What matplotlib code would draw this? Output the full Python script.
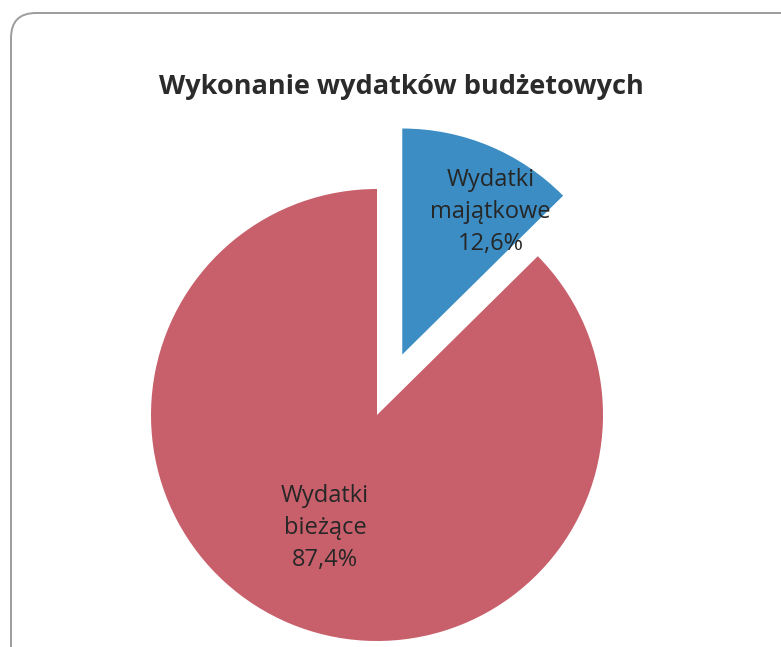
import numpy as np
import matplotlib
matplotlib.use("Agg")
import matplotlib.pyplot as plt
from matplotlib.patches import FancyBboxPatch

# data
categories = ["Wydatki\nmajątkowe", "Wydatki\nbieżące"]
shares = [12.6, 87.4]
colors = ["#3B8DC4", "#C8606C"]
explode = [0.29, 0.0]
title = "Wykonanie wydatków budżetowych"

# label offsets from each wedge's centre, in units of the radius
label_off = [(0.39, 0.63), (-0.23, -0.50)]

plt.rcParams["font.family"] = ["Open Sans", "DejaVu Sans"]

W, H = 781, 647
fig = plt.figure(figsize=(W / 100, H / 100), dpi=100)
fig.patch.set_facecolor("white")

# rounded frame round the chart
frame = FancyBboxPatch((11 / W, -40 / H), 800 / W, (H - 13 + 40) / H,
                       boxstyle="round,pad=0,rounding_size=0.032",
                       transform=fig.transFigure, facecolor="white",
                       edgecolor="#9c9c9c", linewidth=1.4, mutation_aspect=W / H,
                       zorder=-5)
fig.patches.append(frame)

ax = fig.add_axes([0, 0, 1, 1])
ax.patch.set_alpha(0)
ax.axis("off")

r = 226
cx, cy = 377, H - 415
# pie's explode is in data units, so scale by the radius
wedges, _ = ax.pie(shares, colors=colors, explode=[e * r for e in explode],
                   startangle=90, counterclock=False, radius=r, center=(cx, cy),
                   wedgeprops=dict(linewidth=0))
ax.set_xlim(0, W)
ax.set_ylim(0, H)
ax.set_aspect("equal")

for w, lab, val, (ox, oy) in zip(wedges, categories, shares, label_off):
    x0, y0 = w.center
    ax.text(x0 + ox * r, y0 + oy * r, f"{lab}\n{str(val).replace('.', ',')}%",
            ha="center", va="center", fontsize=17, color="#262626",
            linespacing=1.45)

fig.text(401 / W, 1 - 87 / H, title, ha="center", va="center", fontsize=19.5,
         fontweight="bold", color="#2b2b2b")

fig.savefig("out.png", dpi=100)
